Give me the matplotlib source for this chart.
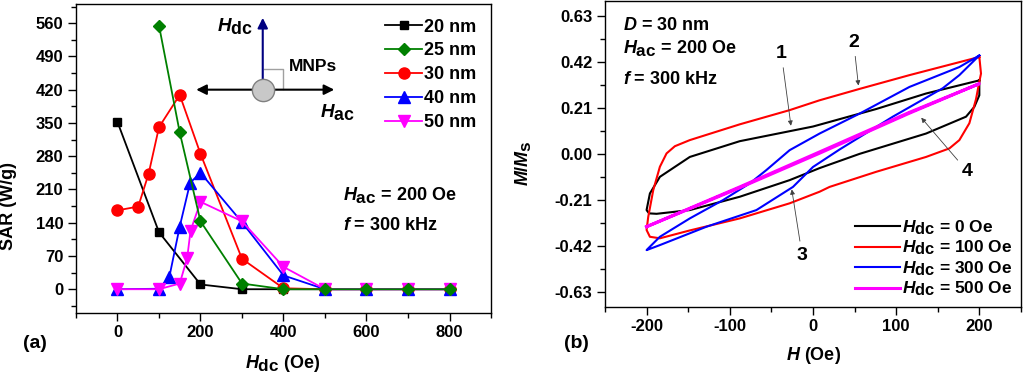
import matplotlib
matplotlib.use('Agg')
from matplotlib import pyplot as plt
from matplotlib.ticker import MultipleLocator
import matplotlib._mathtext as mtext

plt.rcParams['font.family'] = ['Liberation Sans', 'DejaVu Sans']
plt.rcParams['font.weight'] = 'bold'
plt.rcParams['axes.unicode_minus'] = False
plt.rcParams['mathtext.fontset'] = 'custom'
plt.rcParams['mathtext.it'] = 'Liberation Sans:italic:bold'
plt.rcParams['mathtext.rm'] = 'Liberation Sans:bold'
plt.rcParams['mathtext.bf'] = 'Liberation Sans:bold'
# subscripts in the original are about full size
if hasattr(mtext, 'SHRINK_FACTOR'):
	mtext.SHRINK_FACTOR = 0.95

# (a) SAR vs Hdc
sizes = ['20 nm', '25 nm', '30 nm', '40 nm', '50 nm']
hdc20 = [0, 100, 200, 300, 400, 500, 600, 700, 800]
sar20 = [352, 120, 10, 0, 0, 0, 0, 0, 0]
hdc25 = [100, 150, 200, 300, 400, 500, 600, 700, 800]
sar25 = [555, 330, 143, 12, 0, 0, 0, 0, 0]
hdc30 = [0, 50, 75, 100, 150, 200, 300, 400, 500, 600, 700, 800]
sar30 = [166, 174, 243, 341, 409, 285, 64, 2, 0, 0, 0, 0]
hdc40 = [0, 100, 125, 150, 175, 200, 300, 400, 500, 600, 700, 800]
sar40 = [0, 1, 26, 132, 224, 245, 141, 29, 0, 0, 0, 0]
hdc50 = [0, 100, 150, 168, 176, 200, 300, 400, 500, 600, 700, 800]
sar50 = [0, 0, 12, 66, 123, 184, 143, 47, 0, 0, 0, 0]

# (b) hysteresis loops, D = 30 nm (points read along each loop)
loop_labels = ['0 Oe', '100 Oe', '300 Oe', '500 Oe']
h0 = [200, 136, 76, 0, -88, -148, -184, -196, -200, -197, -188, -148, -88, -28, 8, 56, 136, 184, 194, 200, 200]
m0 = [0.336, 0.276, 0.205, 0.125, 0.058, -0.014, -0.105, -0.181, -0.257, -0.272, -0.274, -0.257, -0.196, -0.12, -0.065, 0.0, 0.093, 0.17, 0.215, 0.268, 0.336]
h100 = [200, 116, 56, 8, -28, -88, -148, -166, -176, -184, -192, -198, -200, -196, -184, -148, -88, -28, 8, 20, 76, 136, 164, 176, 188, 196, 200, 202, 200]
m100 = [0.443, 0.36, 0.297, 0.245, 0.2, 0.135, 0.063, 0.035, 0.002, -0.059, -0.166, -0.288, -0.348, -0.379, -0.386, -0.35, -0.295, -0.226, -0.173, -0.151, -0.082, -0.014, 0.025, 0.063, 0.14, 0.25, 0.33, 0.367, 0.443]
h300 = [200, 176, 116, 56, 8, -28, -56, -76, -108, -148, -184, -198, -200, -184, -128, -68, -24, 0, 32, 96, 156, 176, 200]
m300 = [0.45, 0.397, 0.306, 0.184, 0.093, 0.017, -0.074, -0.135, -0.211, -0.295, -0.379, -0.432, -0.44, -0.417, -0.333, -0.257, -0.151, -0.06, 0.02, 0.17, 0.30, 0.36, 0.45]
h500 = [-200, -88, 8, 116, 200, 116, 8, -88, -200]
m500 = [-0.333, -0.151, 0.009, 0.19, 0.321, 0.186, 0.003, -0.155, -0.333]

fig = plt.figure(figsize=(10.24, 3.77), dpi=100)
ax1 = fig.add_axes([0.0742, 0.1698, 0.4053, 0.8192])
ax2 = fig.add_axes([0.5908, 0.1857, 0.4062, 0.8123])

for ax in (ax1, ax2):
	ax.tick_params(which='major', length=5.5, direction='out', width=1, labelsize=12)
	ax.tick_params(which='minor', length=3.5, direction='out', width=1)
	for s in ax.spines.values():
		s.set_linewidth(1)

ax1.plot(hdc20, sar20, '-s', color='black', lw=1.3, ms=6, label=sizes[0], zorder=3)
ax1.plot(hdc25, sar25, '-D', color='#008000', lw=1.3, ms=6.5, label=sizes[1], zorder=8)
ax1.plot(hdc30, sar30, '-o', color='red', lw=1.3, ms=8, label=sizes[2], zorder=4)
ax1.plot(hdc40, sar40, '-^', color='blue', lw=1.3, ms=8, label=sizes[3], zorder=5)
ax1.plot(hdc50, sar50, '-v', color='#ff00ff', lw=1.3, ms=8, label=sizes[4], zorder=6)
ax1.set_xlim(-100, 900)
ax1.set_ylim(-50, 600)
ax1.xaxis.set_major_locator(MultipleLocator(200))
ax1.xaxis.set_minor_locator(MultipleLocator(100))
ax1.yaxis.set_major_locator(MultipleLocator(70))
ax1.yaxis.set_minor_locator(MultipleLocator(35))
ax1.legend(loc='upper right', frameon=False, fontsize=13, handlelength=2.0,
	handletextpad=0.15, labelspacing=0.38, borderaxespad=0.4)
ax1.text(543, 187, r'$H_{\rm ac}$ = 200 Oe', fontsize=13)
ax1.text(543, 124, r'$f$ = 300 kHz', fontsize=13)

# field sketch
ax1.annotate('', xy=(183, 420), xytext=(529, 420),
	arrowprops=dict(arrowstyle='<|-|>', color='black', lw=1.5, mutation_scale=15))
ax1.annotate('', xy=(350, 577), xytext=(350, 420),
	arrowprops=dict(arrowstyle='-|>', color='#000080', lw=1.5, mutation_scale=15))
ax1.plot([352, 400, 400], [464, 464, 422], color='#a0a0a0', lw=1)
ax1.plot([350], [420], 'o', ms=16, mfc='#c8c8c8', mec='#808080', mew=1, zorder=10)
ax1.text(284, 555, r'$H_{\rm dc}$', fontsize=13.5, ha='center', va='center')
ax1.text(529, 372, r'$H_{\rm ac}$', fontsize=13.5, ha='center', va='center')
ax1.text(471, 469, 'MNPs', fontsize=12.5, ha='center', va='center')

ax2.plot(h0, m0, color='black', lw=1.5, label=r'$H_{\rm dc}$ = ' + loop_labels[0])
ax2.plot(h100, m100, color='red', lw=1.5, label=r'$H_{\rm dc}$ = ' + loop_labels[1])
ax2.plot(h300, m300, color='blue', lw=1.5, label=r'$H_{\rm dc}$ = ' + loop_labels[2])
ax2.plot(h500, m500, color='#ff00ff', lw=2.2, label=r'$H_{\rm dc}$ = ' + loop_labels[3])
ax2.set_xlim(-250, 250)
ax2.set_ylim(-0.7, 0.7)
ax2.xaxis.set_major_locator(MultipleLocator(100))
ax2.xaxis.set_minor_locator(MultipleLocator(50))
ax2.set_yticks([-0.63, -0.42, -0.21, 0.0, 0.21, 0.42, 0.63])
ax2.set_yticklabels(['-0.63', '-0.42', '-0.21', '0.00', '0.21', '0.42', '0.63'])
ax2.set_yticks([-0.525, -0.315, -0.105, 0.105, 0.315, 0.525], minor=True)
ax2.legend(loc='lower right', frameon=False, fontsize=12.5, handlelength=2.6,
	handletextpad=0.1, labelspacing=0.1, borderaxespad=0.1)
ax2.text(-228, 0.565, r'$D$ = 30 nm', fontsize=13)
ax2.text(-228, 0.46, r'$H_{\rm ac}$ = 200 Oe', fontsize=13)
ax2.text(-228, 0.318, r'$f$ = 300 kHz', fontsize=13)

arr = dict(arrowstyle='-|>', color='#404040', lw=0.6, mutation_scale=7)
ax2.annotate('1', xy=(-26, 0.116), xytext=(-38, 0.458), fontsize=14, ha='center', va='center', arrowprops=arr)
ax2.annotate('2', xy=(55, 0.30), xytext=(49, 0.51), fontsize=14, ha='center', va='center', arrowprops=arr)
ax2.annotate('3', xy=(-26, -0.15), xytext=(-13, -0.463), fontsize=14, ha='center', va='center', arrowprops=arr)
ax2.annotate('4', xy=(128, 0.175), xytext=(186, -0.082), fontsize=14, ha='center', va='center', arrowprops=arr)

fig.text(0.008, 0.453, 'SAR (W/g)', rotation=90, fontsize=13, ha='center', va='center')
fig.text(0.276, 0.035, r'$H_{\rm dc}$ (Oe)', fontsize=13, ha='center', va='center')
fig.text(0.034, 0.09, '(a)', fontsize=14, ha='center', va='center')
fig.text(0.511, 0.568, r'$M$/$M_{\rm s}$', rotation=90, fontsize=13, ha='center', va='center')
fig.text(0.794, 0.058, r'$H$ (Oe)', fontsize=13, ha='center', va='center')
fig.text(0.563, 0.09, '(b)', fontsize=14, ha='center', va='center')

fig.savefig('out.png', dpi=100)
